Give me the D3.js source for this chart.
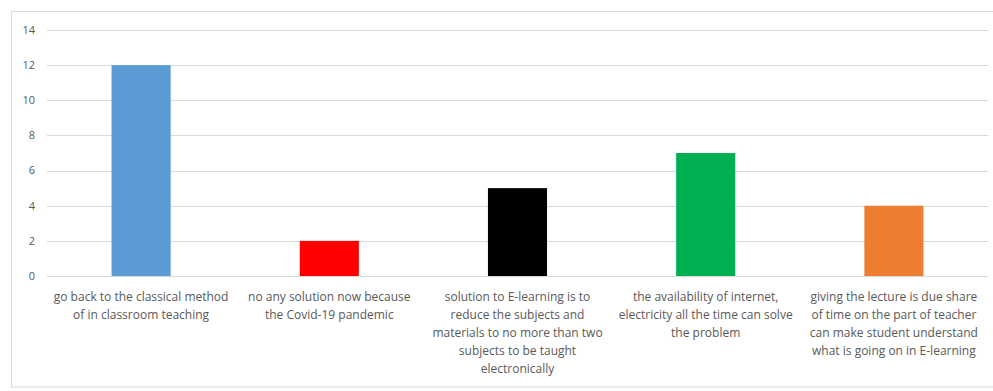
<!DOCTYPE html>
<html>
<head>
<meta charset="utf-8">
<script src="https://cdn.jsdelivr.net/npm/d3@7"></script>
<style>
  body { margin: 0; background: #fff; }
  svg { display: block; }
  text { font-family: "Open Sans", sans-serif; fill: #595959; }
</style>
</head>
<body>
<svg id="chart" width="993" height="391"></svg>
<script>
// answers and counts
const categories = [
  ['go back to the classical method', 'of in classroom teaching'],
  ['no any solution now because', 'the Covid-19 pandemic'],
  ['solution to E-learning is to', 'reduce the subjects and', 'materials to no more than two', 'subjects to be taught', 'electronically'],
  ['the availability of internet,', 'electricity all the time can solve', 'the problem'],
  ['giving the lecture is due share', 'of time on the part of teacher', 'can make student understand', 'what is going on in E-learning']
]
const counts = [12, 2, 5, 7, 4]
const barColors = ['#5b9bd5', '#ff0000', '#000000', '#00b050', '#ed7d31']
const yTicks = [0, 2, 4, 6, 8, 10, 12, 14]

const width = 993
const height = 391
const margin = { left: 47, right: 5, top: 30, bottom: 115 }

const svg = d3.select('#chart')

// chart area frame
svg.append('rect')
  .attr('x', 11.5).attr('y', 11.5)
  .attr('width', 990).attr('height', 375.5)
  .attr('fill', 'none')
  .attr('stroke', '#d9d9d9')

const x = d3.scaleBand()
  .domain(d3.range(categories.length))
  .range([margin.left, width - margin.right])
  .paddingInner(0.686)
  .paddingOuter(0.343)

const y = d3.scaleLinear()
  .domain([0, 14])
  .range([height - margin.bottom, margin.top])

// gridlines
svg.append('g')
  .selectAll('line')
  .data(yTicks)
  .enter().append('line')
  .attr('x1', margin.left)
  .attr('x2', width - margin.right)
  .attr('y1', d => Math.round(y(d)) + 0.5)
  .attr('y2', d => Math.round(y(d)) + 0.5)
  .attr('stroke', '#d9d9d9')
  .attr('stroke-width', 1)

// y axis labels
svg.append('g')
  .selectAll('text')
  .data(yTicks)
  .enter().append('text')
  .attr('x', 35)
  .attr('y', d => y(d))
  .attr('dy', '0.35em')
  .attr('text-anchor', 'end')
  .style('font-size', '11px')
  .text(d => d)

// bars
svg.append('g')
  .selectAll('rect')
  .data(counts)
  .enter().append('rect')
  .attr('x', (d, i) => x(i))
  .attr('width', x.bandwidth())
  .attr('y', d => y(d))
  .attr('height', d => y(0) - y(d))
  .attr('fill', (d, i) => barColors[i])

// category labels
const labels = svg.append('g')
  .selectAll('text')
  .data(categories)
  .enter().append('text')
  .attr('text-anchor', 'middle')
  .style('font-size', '12px')

labels.selectAll('tspan')
  .data((d, i) => d.map(line => ({ line, i })))
  .enter().append('tspan')
  .attr('x', d => x(d.i) + x.bandwidth() / 2)
  .attr('y', (d, j) => 301 + j * 18)
  .text(d => d.line)
</script>
</body>
</html>
